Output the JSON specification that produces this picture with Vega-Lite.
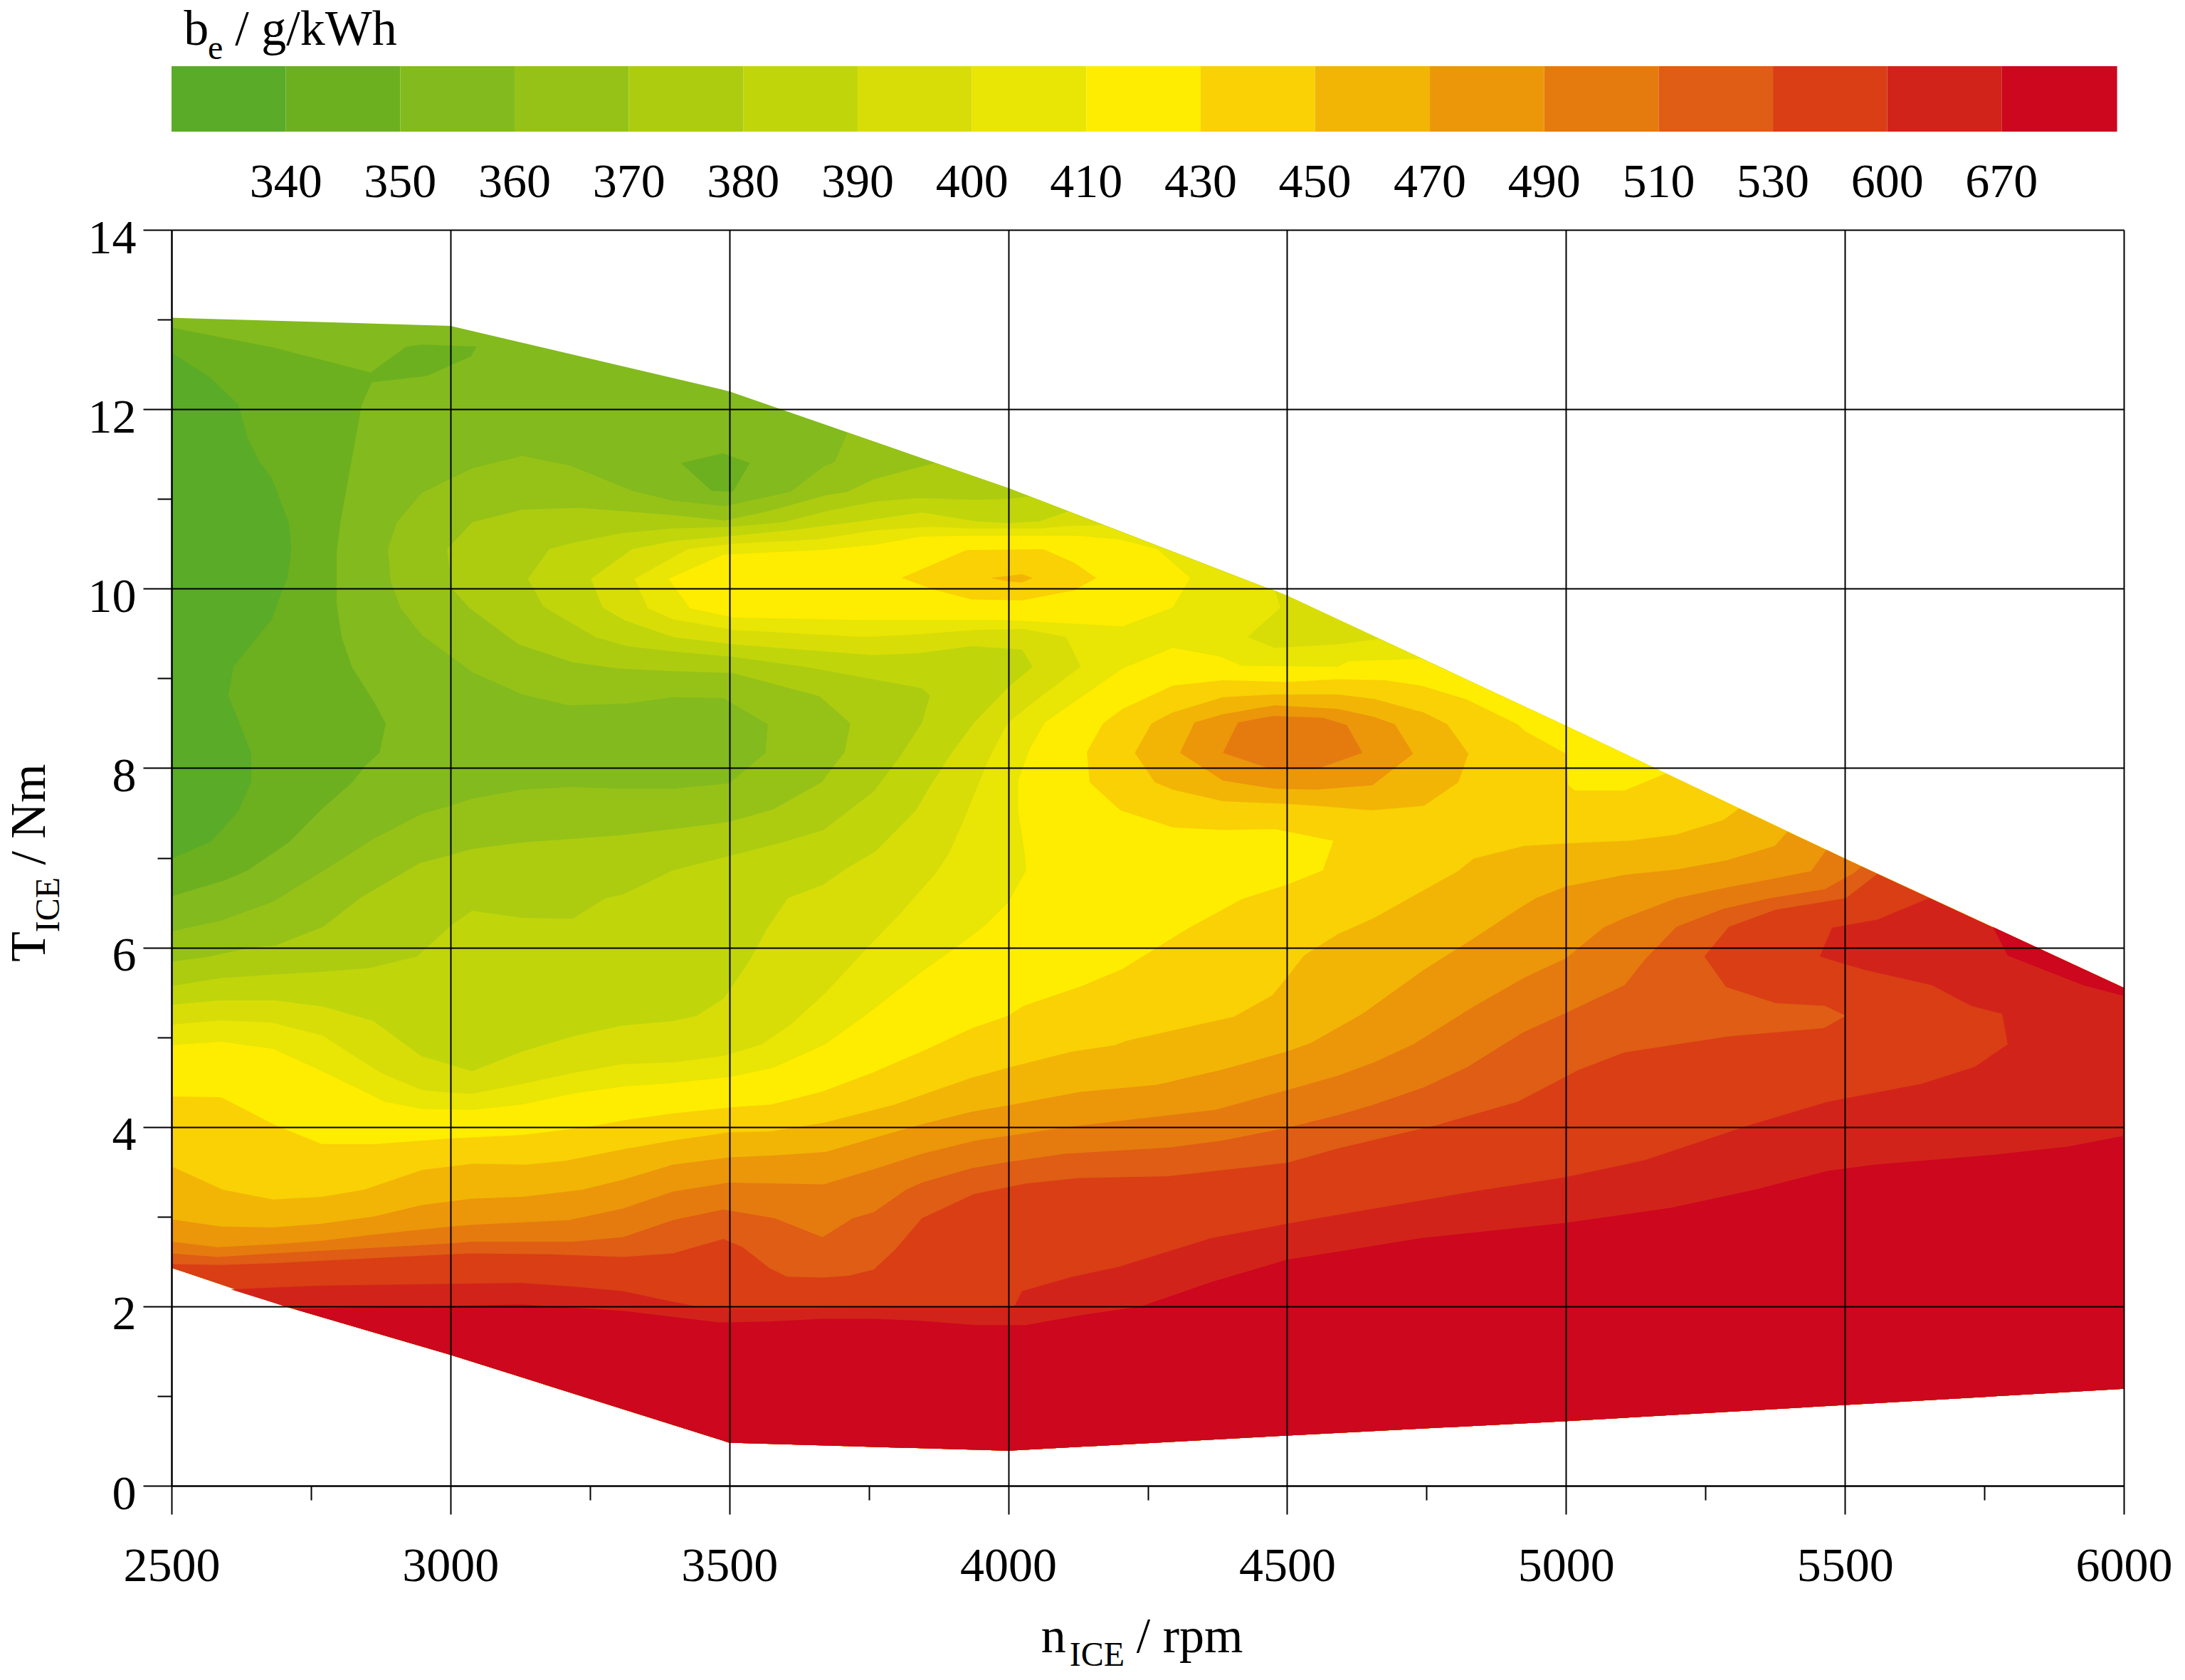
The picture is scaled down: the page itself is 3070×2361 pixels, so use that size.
{"$schema":"https://vega.github.io/schema/vega-lite/v6.json","autosize":{"type":"none"},"padding":{"left":241,"top":323,"right":86,"bottom":273},"width":2743,"height":1765,"background":"white","config":{"view":{"stroke":null},"text":{"font":"Liberation Serif","color":"#000"}},
"datasets":{
"poly":[
{"p":"env","b":2,"x":2500,"y":13.02},{"p":"env","b":2,"x":3000,"y":12.93},{"p":"env","b":2,"x":3500,"y":12.2},{"p":"env","b":2,"x":4000,"y":11.12},{"p":"env","b":2,"x":4500,"y":9.92},{"p":"env","b":2,"x":5000,"y":8.47},{"p":"env","b":2,"x":5500,"y":6.99},{"p":"env","b":2,"x":6000,"y":5.55},{"p":"env","b":2,"x":6000,"y":1.08},{"p":"env","b":2,"x":5500,"y":0.9},{"p":"env","b":2,"x":5000,"y":0.72},{"p":"env","b":2,"x":4500,"y":0.56},{"p":"env","b":2,"x":4000,"y":0.39},{"p":"env","b":2,"x":3500,"y":0.48},{"p":"env","b":2,"x":3000,"y":1.46},{"p":"env","b":2,"x":2703,"y":2.0},{"p":"env","b":2,"x":2600,"y":2.22},{"p":"env","b":2,"x":2500,"y":2.43},
{"p":"v1","b":1,"x":2500,"y":12.91},{"p":"v1","b":1,"x":2682,"y":12.69},{"p":"v1","b":1,"x":2857,"y":12.41},{"p":"v1","b":1,"x":2921,"y":12.7},{"p":"v1","b":1,"x":2949,"y":12.72},{"p":"v1","b":1,"x":3047,"y":12.7},{"p":"v1","b":1,"x":3037,"y":12.59},{"p":"v1","b":1,"x":2957,"y":12.37},{"p":"v1","b":1,"x":2859,"y":12.3},{"p":"v1","b":1,"x":2841,"y":12.05},{"p":"v1","b":1,"x":2803,"y":10.75},{"p":"v1","b":1,"x":2796,"y":10.4},{"p":"v1","b":1,"x":2796,"y":9.83},{"p":"v1","b":1,"x":2805,"y":9.46},{"p":"v1","b":1,"x":2823,"y":9.13},{"p":"v1","b":1,"x":2862,"y":8.75},{"p":"v1","b":1,"x":2884,"y":8.5},{"p":"v1","b":1,"x":2873,"y":8.17},{"p":"v1","b":1,"x":2848,"y":8.03},{"p":"v1","b":1,"x":2824,"y":7.84},{"p":"v1","b":1,"x":2769,"y":7.54},{"p":"v1","b":1,"x":2710,"y":7.17},{"p":"v1","b":1,"x":2637,"y":6.86},{"p":"v1","b":1,"x":2596,"y":6.75},{"p":"v1","b":1,"x":2500,"y":6.57},
{"p":"v1b","b":1,"x":3413,"y":11.4},{"p":"v1b","b":1,"x":3489,"y":11.51},{"p":"v1b","b":1,"x":3537,"y":11.4},{"p":"v1b","b":1,"x":3506,"y":11.08},{"p":"v1b","b":1,"x":3468,"y":11.09},
{"p":"v0","b":0,"x":2500,"y":12.63},{"p":"v0","b":0,"x":2568,"y":12.36},{"p":"v0","b":0,"x":2620,"y":12.05},{"p":"v0","b":0,"x":2637,"y":11.67},{"p":"v0","b":0,"x":2658,"y":11.41},{"p":"v0","b":0,"x":2680,"y":11.23},{"p":"v0","b":0,"x":2696,"y":10.97},{"p":"v0","b":0,"x":2710,"y":10.74},{"p":"v0","b":0,"x":2715,"y":10.44},{"p":"v0","b":0,"x":2708,"y":10.12},{"p":"v0","b":0,"x":2699,"y":9.99},{"p":"v0","b":0,"x":2680,"y":9.66},{"p":"v0","b":0,"x":2611,"y":9.13},{"p":"v0","b":0,"x":2602,"y":8.81},{"p":"v0","b":0,"x":2643,"y":8.17},{"p":"v0","b":0,"x":2643,"y":7.85},{"p":"v0","b":0,"x":2620,"y":7.52},{"p":"v0","b":0,"x":2571,"y":7.18},{"p":"v0","b":0,"x":2500,"y":6.99},
{"p":"r3","b":3,"x":2500,"y":6.18},{"p":"r3","b":3,"x":2589,"y":6.3},{"p":"r3","b":3,"x":2682,"y":6.51},{"p":"r3","b":3,"x":2776,"y":6.87},{"p":"r3","b":3,"x":2862,"y":7.21},{"p":"r3","b":3,"x":2949,"y":7.49},{"p":"r3","b":3,"x":3000,"y":7.58},{"p":"r3","b":3,"x":3039,"y":7.66},{"p":"r3","b":3,"x":3129,"y":7.76},{"p":"r3","b":3,"x":3219,"y":7.79},{"p":"r3","b":3,"x":3302,"y":7.77},{"p":"r3","b":3,"x":3399,"y":7.77},{"p":"r3","b":3,"x":3500,"y":7.83},{"p":"r3","b":3,"x":3565,"y":8.17},{"p":"r3","b":3,"x":3569,"y":8.49},{"p":"r3","b":3,"x":3489,"y":8.78},{"p":"r3","b":3,"x":3399,"y":8.79},{"p":"r3","b":3,"x":3316,"y":8.72},{"p":"r3","b":3,"x":3212,"y":8.7},{"p":"r3","b":3,"x":3129,"y":8.82},{"p":"r3","b":3,"x":3039,"y":9.07},{"p":"r3","b":3,"x":3000,"y":9.25},{"p":"r3","b":3,"x":2949,"y":9.48},{"p":"r3","b":3,"x":2911,"y":9.78},{"p":"r3","b":3,"x":2893,"y":10.08},{"p":"r3","b":3,"x":2888,"y":10.44},{"p":"r3","b":3,"x":2904,"y":10.74},{"p":"r3","b":3,"x":2949,"y":11.07},{"p":"r3","b":3,"x":3039,"y":11.34},{"p":"r3","b":3,"x":3129,"y":11.48},{"p":"r3","b":3,"x":3215,"y":11.37},{"p":"r3","b":3,"x":3326,"y":11.09},{"p":"r3","b":3,"x":3399,"y":10.98},{"p":"r3","b":3,"x":3492,"y":10.92},{"p":"r3","b":3,"x":3610,"y":11.08},{"p":"r3","b":3,"x":3669,"y":11.36},{"p":"r3","b":3,"x":3689,"y":11.41},{"p":"r3","b":3,"x":3712,"y":11.74},{"p":"r3","b":3,"x":4000,"y":11.12},{"p":"r3","b":3,"x":4500,"y":9.92},{"p":"r3","b":3,"x":5000,"y":8.47},{"p":"r3","b":3,"x":5500,"y":6.99},{"p":"r3","b":3,"x":6000,"y":5.55},{"p":"r3","b":3,"x":6000,"y":1.08},{"p":"r3","b":3,"x":5500,"y":0.9},{"p":"r3","b":3,"x":5000,"y":0.72},{"p":"r3","b":3,"x":4500,"y":0.56},{"p":"r3","b":3,"x":4000,"y":0.39},{"p":"r3","b":3,"x":3500,"y":0.48},{"p":"r3","b":3,"x":3000,"y":1.46},{"p":"r3","b":3,"x":2703,"y":2.0},{"p":"r3","b":3,"x":2600,"y":2.22},{"p":"r3","b":3,"x":2500,"y":2.43},
{"p":"r4","b":4,"x":2500,"y":5.84},{"p":"r4","b":4,"x":2568,"y":5.9},{"p":"r4","b":4,"x":2644,"y":6.0},{"p":"r4","b":4,"x":2686,"y":6.02},{"p":"r4","b":4,"x":2772,"y":6.23},{"p":"r4","b":4,"x":2838,"y":6.55},{"p":"r4","b":4,"x":2945,"y":6.94},{"p":"r4","b":4,"x":3000,"y":7.03},{"p":"r4","b":4,"x":3039,"y":7.1},{"p":"r4","b":4,"x":3129,"y":7.17},{"p":"r4","b":4,"x":3302,"y":7.25},{"p":"r4","b":4,"x":3399,"y":7.32},{"p":"r4","b":4,"x":3500,"y":7.4},{"p":"r4","b":4,"x":3579,"y":7.54},{"p":"r4","b":4,"x":3665,"y":7.84},{"p":"r4","b":4,"x":3707,"y":8.18},{"p":"r4","b":4,"x":3717,"y":8.5},{"p":"r4","b":4,"x":3662,"y":8.8},{"p":"r4","b":4,"x":3506,"y":9.06},{"p":"r4","b":4,"x":3399,"y":9.08},{"p":"r4","b":4,"x":3302,"y":9.11},{"p":"r4","b":4,"x":3219,"y":9.18},{"p":"r4","b":4,"x":3122,"y":9.38},{"p":"r4","b":4,"x":3035,"y":9.78},{"p":"r4","b":4,"x":3004,"y":9.99},{"p":"r4","b":4,"x":2994,"y":10.44},{"p":"r4","b":4,"x":3039,"y":10.74},{"p":"r4","b":4,"x":3129,"y":10.88},{"p":"r4","b":4,"x":3229,"y":10.9},{"p":"r4","b":4,"x":3316,"y":10.86},{"p":"r4","b":4,"x":3399,"y":10.82},{"p":"r4","b":4,"x":3492,"y":10.76},{"p":"r4","b":4,"x":3575,"y":10.87},{"p":"r4","b":4,"x":3672,"y":11.04},{"p":"r4","b":4,"x":3712,"y":11.08},{"p":"r4","b":4,"x":3759,"y":11.22},{"p":"r4","b":4,"x":3869,"y":11.4},{"p":"r4","b":4,"x":4000,"y":11.12},{"p":"r4","b":4,"x":4500,"y":9.92},{"p":"r4","b":4,"x":5000,"y":8.47},{"p":"r4","b":4,"x":5500,"y":6.99},{"p":"r4","b":4,"x":6000,"y":5.55},{"p":"r4","b":4,"x":6000,"y":1.08},{"p":"r4","b":4,"x":5500,"y":0.9},{"p":"r4","b":4,"x":5000,"y":0.72},{"p":"r4","b":4,"x":4500,"y":0.56},{"p":"r4","b":4,"x":4000,"y":0.39},{"p":"r4","b":4,"x":3500,"y":0.48},{"p":"r4","b":4,"x":3000,"y":1.46},{"p":"r4","b":4,"x":2703,"y":2.0},{"p":"r4","b":4,"x":2600,"y":2.22},{"p":"r4","b":4,"x":2500,"y":2.43},
{"p":"r5","b":5,"x":2500,"y":5.57},{"p":"r5","b":5,"x":2589,"y":5.66},{"p":"r5","b":5,"x":2686,"y":5.7},{"p":"r5","b":5,"x":2776,"y":5.73},{"p":"r5","b":5,"x":2855,"y":5.77},{"p":"r5","b":5,"x":2940,"y":5.9},{"p":"r5","b":5,"x":3000,"y":6.24},{"p":"r5","b":5,"x":3039,"y":6.41},{"p":"r5","b":5,"x":3129,"y":6.33},{"p":"r5","b":5,"x":3219,"y":6.32},{"p":"r5","b":5,"x":3278,"y":6.55},{"p":"r5","b":5,"x":3309,"y":6.59},{"p":"r5","b":5,"x":3399,"y":6.86},{"p":"r5","b":5,"x":3500,"y":7.02},{"p":"r5","b":5,"x":3589,"y":7.16},{"p":"r5","b":5,"x":3669,"y":7.31},{"p":"r5","b":5,"x":3759,"y":7.74},{"p":"r5","b":5,"x":3804,"y":8.11},{"p":"r5","b":5,"x":3845,"y":8.5},{"p":"r5","b":5,"x":3860,"y":8.81},{"p":"r5","b":5,"x":3845,"y":8.89},{"p":"r5","b":5,"x":3645,"y":9.12},{"p":"r5","b":5,"x":3506,"y":9.24},{"p":"r5","b":5,"x":3399,"y":9.3},{"p":"r5","b":5,"x":3316,"y":9.36},{"p":"r5","b":5,"x":3260,"y":9.46},{"p":"r5","b":5,"x":3167,"y":9.8},{"p":"r5","b":5,"x":3139,"y":10.11},{"p":"r5","b":5,"x":3177,"y":10.44},{"p":"r5","b":5,"x":3219,"y":10.51},{"p":"r5","b":5,"x":3309,"y":10.62},{"p":"r5","b":5,"x":3399,"y":10.67},{"p":"r5","b":5,"x":3506,"y":10.69},{"p":"r5","b":5,"x":3596,"y":10.74},{"p":"r5","b":5,"x":3679,"y":10.87},{"p":"r5","b":5,"x":3762,"y":10.97},{"p":"r5","b":5,"x":3838,"y":11.01},{"p":"r5","b":5,"x":3942,"y":10.99},{"p":"r5","b":5,"x":4000,"y":11.0},{"p":"r5","b":5,"x":4039,"y":11.03},{"p":"r5","b":5,"x":4500,"y":9.92},{"p":"r5","b":5,"x":5000,"y":8.47},{"p":"r5","b":5,"x":5500,"y":6.99},{"p":"r5","b":5,"x":6000,"y":5.55},{"p":"r5","b":5,"x":6000,"y":1.08},{"p":"r5","b":5,"x":5500,"y":0.9},{"p":"r5","b":5,"x":5000,"y":0.72},{"p":"r5","b":5,"x":4500,"y":0.56},{"p":"r5","b":5,"x":4000,"y":0.39},{"p":"r5","b":5,"x":3500,"y":0.48},{"p":"r5","b":5,"x":3000,"y":1.46},{"p":"r5","b":5,"x":2703,"y":2.0},{"p":"r5","b":5,"x":2600,"y":2.22},{"p":"r5","b":5,"x":2500,"y":2.43},
{"p":"r6","b":6,"x":2500,"y":5.36},{"p":"r6","b":6,"x":2585,"y":5.41},{"p":"r6","b":6,"x":2686,"y":5.41},{"p":"r6","b":6,"x":2772,"y":5.34},{"p":"r6","b":6,"x":2862,"y":5.18},{"p":"r6","b":6,"x":2947,"y":4.79},{"p":"r6","b":6,"x":3039,"y":4.62},{"p":"r6","b":6,"x":3129,"y":4.84},{"p":"r6","b":6,"x":3219,"y":5.01},{"p":"r6","b":6,"x":3309,"y":5.13},{"p":"r6","b":6,"x":3399,"y":5.18},{"p":"r6","b":6,"x":3442,"y":5.24},{"p":"r6","b":6,"x":3490,"y":5.43},{"p":"r6","b":6,"x":3537,"y":5.86},{"p":"r6","b":6,"x":3568,"y":6.21},{"p":"r6","b":6,"x":3605,"y":6.55},{"p":"r6","b":6,"x":3669,"y":6.7},{"p":"r6","b":6,"x":3710,"y":6.88},{"p":"r6","b":6,"x":3762,"y":7.07},{"p":"r6","b":6,"x":3835,"y":7.53},{"p":"r6","b":6,"x":3859,"y":7.79},{"p":"r6","b":6,"x":3900,"y":8.18},{"p":"r6","b":6,"x":3938,"y":8.5},{"p":"r6","b":6,"x":4000,"y":8.9},{"p":"r6","b":6,"x":4044,"y":9.13},{"p":"r6","b":6,"x":4025,"y":9.32},{"p":"r6","b":6,"x":3935,"y":9.36},{"p":"r6","b":6,"x":3838,"y":9.28},{"p":"r6","b":6,"x":3755,"y":9.26},{"p":"r6","b":6,"x":3506,"y":9.38},{"p":"r6","b":6,"x":3399,"y":9.46},{"p":"r6","b":6,"x":3312,"y":9.65},{"p":"r6","b":6,"x":3273,"y":9.79},{"p":"r6","b":6,"x":3252,"y":10.11},{"p":"r6","b":6,"x":3326,"y":10.44},{"p":"r6","b":6,"x":3399,"y":10.53},{"p":"r6","b":6,"x":3506,"y":10.59},{"p":"r6","b":6,"x":3610,"y":10.65},{"p":"r6","b":6,"x":3734,"y":10.75},{"p":"r6","b":6,"x":3845,"y":10.85},{"p":"r6","b":6,"x":3942,"y":10.75},{"p":"r6","b":6,"x":4000,"y":10.73},{"p":"r6","b":6,"x":4056,"y":10.75},{"p":"r6","b":6,"x":4108,"y":10.86},{"p":"r6","b":6,"x":4500,"y":9.92},{"p":"r6","b":6,"x":5000,"y":8.47},{"p":"r6","b":6,"x":5500,"y":6.99},{"p":"r6","b":6,"x":6000,"y":5.55},{"p":"r6","b":6,"x":6000,"y":1.08},{"p":"r6","b":6,"x":5500,"y":0.9},{"p":"r6","b":6,"x":5000,"y":0.72},{"p":"r6","b":6,"x":4500,"y":0.56},{"p":"r6","b":6,"x":4000,"y":0.39},{"p":"r6","b":6,"x":3500,"y":0.48},{"p":"r6","b":6,"x":3000,"y":1.46},{"p":"r6","b":6,"x":2703,"y":2.0},{"p":"r6","b":6,"x":2600,"y":2.22},{"p":"r6","b":6,"x":2500,"y":2.43},
{"p":"r7","b":7,"x":2500,"y":5.14},{"p":"r7","b":7,"x":2589,"y":5.19},{"p":"r7","b":7,"x":2682,"y":5.16},{"p":"r7","b":7,"x":2770,"y":5.02},{"p":"r7","b":7,"x":2876,"y":4.6},{"p":"r7","b":7,"x":2949,"y":4.41},{"p":"r7","b":7,"x":3000,"y":4.38},{"p":"r7","b":7,"x":3039,"y":4.37},{"p":"r7","b":7,"x":3129,"y":4.48},{"p":"r7","b":7,"x":3219,"y":4.6},{"p":"r7","b":7,"x":3309,"y":4.7},{"p":"r7","b":7,"x":3399,"y":4.72},{"p":"r7","b":7,"x":3489,"y":4.79},{"p":"r7","b":7,"x":3558,"y":4.92},{"p":"r7","b":7,"x":3610,"y":5.14},{"p":"r7","b":7,"x":3672,"y":5.49},{"p":"r7","b":7,"x":3748,"y":6.0},{"p":"r7","b":7,"x":3804,"y":6.36},{"p":"r7","b":7,"x":3869,"y":6.82},{"p":"r7","b":7,"x":3893,"y":7.04},{"p":"r7","b":7,"x":3914,"y":7.33},{"p":"r7","b":7,"x":3938,"y":7.69},{"p":"r7","b":7,"x":3963,"y":8.07},{"p":"r7","b":7,"x":3973,"y":8.2},{"p":"r7","b":7,"x":4000,"y":8.51},{"p":"r7","b":7,"x":4059,"y":8.8},{"p":"r7","b":7,"x":4130,"y":9.13},{"p":"r7","b":7,"x":4104,"y":9.46},{"p":"r7","b":7,"x":4028,"y":9.55},{"p":"r7","b":7,"x":3942,"y":9.54},{"p":"r7","b":7,"x":3838,"y":9.49},{"p":"r7","b":7,"x":3741,"y":9.46},{"p":"r7","b":7,"x":3506,"y":9.54},{"p":"r7","b":7,"x":3399,"y":9.66},{"p":"r7","b":7,"x":3354,"y":9.78},{"p":"r7","b":7,"x":3330,"y":10.11},{"p":"r7","b":7,"x":3425,"y":10.44},{"p":"r7","b":7,"x":3506,"y":10.5},{"p":"r7","b":7,"x":3658,"y":10.55},{"p":"r7","b":7,"x":3762,"y":10.65},{"p":"r7","b":7,"x":3859,"y":10.69},{"p":"r7","b":7,"x":3935,"y":10.67},{"p":"r7","b":7,"x":4053,"y":10.67},{"p":"r7","b":7,"x":4115,"y":10.7},{"p":"r7","b":7,"x":4170,"y":10.71},{"p":"r7","b":7,"x":4500,"y":9.92},{"p":"r7","b":7,"x":5000,"y":8.47},{"p":"r7","b":7,"x":5500,"y":6.99},{"p":"r7","b":7,"x":6000,"y":5.55},{"p":"r7","b":7,"x":6000,"y":1.08},{"p":"r7","b":7,"x":5500,"y":0.9},{"p":"r7","b":7,"x":5000,"y":0.72},{"p":"r7","b":7,"x":4500,"y":0.56},{"p":"r7","b":7,"x":4000,"y":0.39},{"p":"r7","b":7,"x":3500,"y":0.48},{"p":"r7","b":7,"x":3000,"y":1.46},{"p":"r7","b":7,"x":2703,"y":2.0},{"p":"r7","b":7,"x":2600,"y":2.22},{"p":"r7","b":7,"x":2500,"y":2.43},
{"p":"i6","b":6,"x":4478,"y":9.98},{"p":"i6","b":6,"x":4488,"y":9.79},{"p":"i6","b":6,"x":4429,"y":9.46},{"p":"i6","b":6,"x":4478,"y":9.34},{"p":"i6","b":6,"x":4591,"y":9.38},{"p":"i6","b":6,"x":4665,"y":9.44},{"p":"i6","b":6,"x":4500,"y":9.92},
{"p":"r8a","b":8,"x":3391,"y":10.11},{"p":"r8a","b":8,"x":3489,"y":10.38},{"p":"r8a","b":8,"x":3665,"y":10.43},{"p":"r8a","b":8,"x":3762,"y":10.49},{"p":"r8a","b":8,"x":3842,"y":10.58},{"p":"r8a","b":8,"x":3921,"y":10.59},{"p":"r8a","b":8,"x":4122,"y":10.59},{"p":"r8a","b":8,"x":4198,"y":10.55},{"p":"r8a","b":8,"x":4267,"y":10.44},{"p":"r8a","b":8,"x":4326,"y":10.12},{"p":"r8a","b":8,"x":4295,"y":9.79},{"p":"r8a","b":8,"x":4205,"y":9.58},{"p":"r8a","b":8,"x":4000,"y":9.65},{"p":"r8a","b":8,"x":3748,"y":9.65},{"p":"r8a","b":8,"x":3506,"y":9.68},{"p":"r8a","b":8,"x":3430,"y":9.78},
{"p":"r8b","b":8,"x":2500,"y":4.91},{"p":"r8b","b":8,"x":2589,"y":4.95},{"p":"r8b","b":8,"x":2682,"y":4.87},{"p":"r8b","b":8,"x":2770,"y":4.62},{"p":"r8b","b":8,"x":2883,"y":4.28},{"p":"r8b","b":8,"x":2949,"y":4.2},{"p":"r8b","b":8,"x":3039,"y":4.19},{"p":"r8b","b":8,"x":3129,"y":4.25},{"p":"r8b","b":8,"x":3219,"y":4.37},{"p":"r8b","b":8,"x":3309,"y":4.45},{"p":"r8b","b":8,"x":3399,"y":4.49},{"p":"r8b","b":8,"x":3506,"y":4.56},{"p":"r8b","b":8,"x":3579,"y":4.66},{"p":"r8b","b":8,"x":3672,"y":4.92},{"p":"r8b","b":8,"x":3748,"y":5.26},{"p":"r8b","b":8,"x":3845,"y":5.73},{"p":"r8b","b":8,"x":3907,"y":6.0},{"p":"r8b","b":8,"x":3956,"y":6.23},{"p":"r8b","b":8,"x":4000,"y":6.5},{"p":"r8b","b":8,"x":4032,"y":6.86},{"p":"r8b","b":8,"x":4030,"y":7.04},{"p":"r8b","b":8,"x":4018,"y":7.51},{"p":"r8b","b":8,"x":4018,"y":7.86},{"p":"r8b","b":8,"x":4039,"y":8.22},{"p":"r8b","b":8,"x":4066,"y":8.51},{"p":"r8b","b":8,"x":4205,"y":9.11},{"p":"r8b","b":8,"x":4295,"y":9.34},{"p":"r8b","b":8,"x":4381,"y":9.24},{"p":"r8b","b":8,"x":4419,"y":9.14},{"p":"r8b","b":8,"x":4591,"y":9.13},{"p":"r8b","b":8,"x":4609,"y":9.19},{"p":"r8b","b":8,"x":4740,"y":9.22},{"p":"r8b","b":8,"x":5000,"y":8.47},{"p":"r8b","b":8,"x":5500,"y":6.99},{"p":"r8b","b":8,"x":6000,"y":5.55},{"p":"r8b","b":8,"x":6000,"y":1.08},{"p":"r8b","b":8,"x":5500,"y":0.9},{"p":"r8b","b":8,"x":5000,"y":0.72},{"p":"r8b","b":8,"x":4500,"y":0.56},{"p":"r8b","b":8,"x":4000,"y":0.39},{"p":"r8b","b":8,"x":3500,"y":0.48},{"p":"r8b","b":8,"x":3000,"y":1.46},{"p":"r8b","b":8,"x":2703,"y":2.0},{"p":"r8b","b":8,"x":2600,"y":2.22},{"p":"r8b","b":8,"x":2500,"y":2.43},
{"p":"r9a","b":9,"x":3809,"y":10.12},{"p":"r9a","b":9,"x":3925,"y":10.43},{"p":"r9a","b":9,"x":4063,"y":10.44},{"p":"r9a","b":9,"x":4118,"y":10.29},{"p":"r9a","b":9,"x":4158,"y":10.12},{"p":"r9a","b":9,"x":4118,"y":9.98},{"p":"r9a","b":9,"x":4025,"y":9.87},{"p":"r9a","b":9,"x":3935,"y":9.88},{"p":"r9a","b":9,"x":3866,"y":9.99},
{"p":"r10a","b":10,"x":3968,"y":10.12},{"p":"r10a","b":10,"x":4025,"y":10.16},{"p":"r10a","b":10,"x":4044,"y":10.12},{"p":"r10a","b":10,"x":4025,"y":10.07},{"p":"r10a","b":10,"x":4000,"y":10.08},
{"p":"r9b","b":9,"x":2500,"y":4.34},{"p":"r9b","b":9,"x":2589,"y":4.33},{"p":"r9b","b":9,"x":2686,"y":4.02},{"p":"r9b","b":9,"x":2769,"y":3.81},{"p":"r9b","b":9,"x":2866,"y":3.81},{"p":"r9b","b":9,"x":3000,"y":3.87},{"p":"r9b","b":9,"x":3129,"y":3.91},{"p":"r9b","b":9,"x":3247,"y":4.0},{"p":"r9b","b":9,"x":3316,"y":4.08},{"p":"r9b","b":9,"x":3399,"y":4.15},{"p":"r9b","b":9,"x":3506,"y":4.22},{"p":"r9b","b":9,"x":3575,"y":4.25},{"p":"r9b","b":9,"x":3665,"y":4.39},{"p":"r9b","b":9,"x":3755,"y":4.6},{"p":"r9b","b":9,"x":3852,"y":4.86},{"p":"r9b","b":9,"x":3935,"y":5.1},{"p":"r9b","b":9,"x":4000,"y":5.24},{"p":"r9b","b":9,"x":4028,"y":5.35},{"p":"r9b","b":9,"x":4132,"y":5.57},{"p":"r9b","b":9,"x":4205,"y":5.76},{"p":"r9b","b":9,"x":4267,"y":6.0},{"p":"r9b","b":9,"x":4322,"y":6.21},{"p":"r9b","b":9,"x":4419,"y":6.54},{"p":"r9b","b":9,"x":4500,"y":6.7},{"p":"r9b","b":9,"x":4564,"y":6.86},{"p":"r9b","b":9,"x":4583,"y":7.19},{"p":"r9b","b":9,"x":4478,"y":7.32},{"p":"r9b","b":9,"x":4385,"y":7.31},{"p":"r9b","b":9,"x":4295,"y":7.34},{"p":"r9b","b":9,"x":4201,"y":7.53},{"p":"r9b","b":9,"x":4146,"y":7.84},{"p":"r9b","b":9,"x":4141,"y":8.18},{"p":"r9b","b":9,"x":4170,"y":8.5},{"p":"r9b","b":9,"x":4205,"y":8.66},{"p":"r9b","b":9,"x":4295,"y":8.92},{"p":"r9b","b":9,"x":4385,"y":8.98},{"p":"r9b","b":9,"x":4500,"y":8.96},{"p":"r9b","b":9,"x":4591,"y":8.99},{"p":"r9b","b":9,"x":4675,"y":8.98},{"p":"r9b","b":9,"x":4740,"y":8.92},{"p":"r9b","b":9,"x":4820,"y":8.77},{"p":"r9b","b":9,"x":4913,"y":8.49},{"p":"r9b","b":9,"x":4927,"y":8.41},{"p":"r9b","b":9,"x":5000,"y":8.16},{"p":"r9b","b":9,"x":5004,"y":7.81},{"p":"r9b","b":9,"x":5016,"y":7.75},{"p":"r9b","b":9,"x":5105,"y":7.75},{"p":"r9b","b":9,"x":5179,"y":7.94},{"p":"r9b","b":9,"x":5500,"y":6.99},{"p":"r9b","b":9,"x":6000,"y":5.55},{"p":"r9b","b":9,"x":6000,"y":1.08},{"p":"r9b","b":9,"x":5500,"y":0.9},{"p":"r9b","b":9,"x":5000,"y":0.72},{"p":"r9b","b":9,"x":4500,"y":0.56},{"p":"r9b","b":9,"x":4000,"y":0.39},{"p":"r9b","b":9,"x":3500,"y":0.48},{"p":"r9b","b":9,"x":3000,"y":1.46},{"p":"r9b","b":9,"x":2703,"y":2.0},{"p":"r9b","b":9,"x":2600,"y":2.22},{"p":"r9b","b":9,"x":2500,"y":2.43},
{"p":"r10b","b":10,"x":4227,"y":8.17},{"p":"r10b","b":10,"x":4257,"y":8.5},{"p":"r10b","b":10,"x":4295,"y":8.62},{"p":"r10b","b":10,"x":4385,"y":8.79},{"p":"r10b","b":10,"x":4474,"y":8.82},{"p":"r10b","b":10,"x":4591,"y":8.82},{"p":"r10b","b":10,"x":4656,"y":8.77},{"p":"r10b","b":10,"x":4745,"y":8.62},{"p":"r10b","b":10,"x":4787,"y":8.49},{"p":"r10b","b":10,"x":4825,"y":8.16},{"p":"r10b","b":10,"x":4807,"y":7.84},{"p":"r10b","b":10,"x":4745,"y":7.58},{"p":"r10b","b":10,"x":4651,"y":7.53},{"p":"r10b","b":10,"x":4553,"y":7.58},{"p":"r10b","b":10,"x":4500,"y":7.6},{"p":"r10b","b":10,"x":4385,"y":7.63},{"p":"r10b","b":10,"x":4295,"y":7.76},{"p":"r10b","b":10,"x":4263,"y":7.84},
{"p":"r11b","b":11,"x":4308,"y":8.17},{"p":"r11b","b":11,"x":4334,"y":8.51},{"p":"r11b","b":11,"x":4385,"y":8.6},{"p":"r11b","b":11,"x":4478,"y":8.7},{"p":"r11b","b":11,"x":4591,"y":8.66},{"p":"r11b","b":11,"x":4656,"y":8.57},{"p":"r11b","b":11,"x":4693,"y":8.49},{"p":"r11b","b":11,"x":4726,"y":8.16},{"p":"r11b","b":11,"x":4653,"y":7.81},{"p":"r11b","b":11,"x":4553,"y":7.76},{"p":"r11b","b":11,"x":4478,"y":7.77},{"p":"r11b","b":11,"x":4385,"y":7.86},
{"p":"r12b","b":12,"x":4385,"y":8.17},{"p":"r12b","b":12,"x":4412,"y":8.51},{"p":"r12b","b":12,"x":4474,"y":8.58},{"p":"r12b","b":12,"x":4564,"y":8.56},{"p":"r12b","b":12,"x":4607,"y":8.48},{"p":"r12b","b":12,"x":4635,"y":8.17},{"p":"r12b","b":12,"x":4553,"y":7.99},{"p":"r12b","b":12,"x":4471,"y":7.99},
{"p":"r10","b":10,"x":2500,"y":3.56},{"p":"r10","b":10,"x":2592,"y":3.3},{"p":"r10","b":10,"x":2682,"y":3.19},{"p":"r10","b":10,"x":2769,"y":3.22},{"p":"r10","b":10,"x":2845,"y":3.3},{"p":"r10","b":10,"x":2949,"y":3.52},{"p":"r10","b":10,"x":3039,"y":3.59},{"p":"r10","b":10,"x":3136,"y":3.58},{"p":"r10","b":10,"x":3205,"y":3.62},{"p":"r10","b":10,"x":3309,"y":3.75},{"p":"r10","b":10,"x":3399,"y":3.85},{"p":"r10","b":10,"x":3500,"y":3.94},{"p":"r10","b":10,"x":3575,"y":3.95},{"p":"r10","b":10,"x":3672,"y":4.05},{"p":"r10","b":10,"x":3797,"y":4.25},{"p":"r10","b":10,"x":3935,"y":4.55},{"p":"r10","b":10,"x":4000,"y":4.66},{"p":"r10","b":10,"x":4115,"y":4.84},{"p":"r10","b":10,"x":4191,"y":4.91},{"p":"r10","b":10,"x":4212,"y":4.96},{"p":"r10","b":10,"x":4405,"y":5.23},{"p":"r10","b":10,"x":4474,"y":5.47},{"p":"r10","b":10,"x":4500,"y":5.67},{"p":"r10","b":10,"x":4530,"y":5.91},{"p":"r10","b":10,"x":4591,"y":6.15},{"p":"r10","b":10,"x":4656,"y":6.33},{"p":"r10","b":10,"x":4806,"y":6.85},{"p":"r10","b":10,"x":4834,"y":6.99},{"p":"r10","b":10,"x":4924,"y":7.13},{"p":"r10","b":10,"x":5000,"y":7.16},{"p":"r10","b":10,"x":5114,"y":7.19},{"p":"r10","b":10,"x":5198,"y":7.26},{"p":"r10","b":10,"x":5282,"y":7.42},{"p":"r10","b":10,"x":5310,"y":7.55},{"p":"r10","b":10,"x":5500,"y":6.99},{"p":"r10","b":10,"x":6000,"y":5.55},{"p":"r10","b":10,"x":6000,"y":1.08},{"p":"r10","b":10,"x":5500,"y":0.9},{"p":"r10","b":10,"x":5000,"y":0.72},{"p":"r10","b":10,"x":4500,"y":0.56},{"p":"r10","b":10,"x":4000,"y":0.39},{"p":"r10","b":10,"x":3500,"y":0.48},{"p":"r10","b":10,"x":3000,"y":1.46},{"p":"r10","b":10,"x":2703,"y":2.0},{"p":"r10","b":10,"x":2600,"y":2.22},{"p":"r10","b":10,"x":2500,"y":2.43},
{"p":"r11","b":11,"x":2500,"y":2.97},{"p":"r11","b":11,"x":2589,"y":2.89},{"p":"r11","b":11,"x":2682,"y":2.88},{"p":"r11","b":11,"x":2769,"y":2.92},{"p":"r11","b":11,"x":2862,"y":3.0},{"p":"r11","b":11,"x":2949,"y":3.13},{"p":"r11","b":11,"x":3039,"y":3.2},{"p":"r11","b":11,"x":3129,"y":3.22},{"p":"r11","b":11,"x":3236,"y":3.3},{"p":"r11","b":11,"x":3309,"y":3.41},{"p":"r11","b":11,"x":3399,"y":3.58},{"p":"r11","b":11,"x":3500,"y":3.66},{"p":"r11","b":11,"x":3575,"y":3.68},{"p":"r11","b":11,"x":3672,"y":3.72},{"p":"r11","b":11,"x":3845,"y":4.03},{"p":"r11","b":11,"x":3935,"y":4.17},{"p":"r11","b":11,"x":4000,"y":4.24},{"p":"r11","b":11,"x":4129,"y":4.39},{"p":"r11","b":11,"x":4267,"y":4.47},{"p":"r11","b":11,"x":4385,"y":4.64},{"p":"r11","b":11,"x":4500,"y":4.84},{"p":"r11","b":11,"x":4544,"y":4.94},{"p":"r11","b":11,"x":4635,"y":5.26},{"p":"r11","b":11,"x":4745,"y":5.75},{"p":"r11","b":11,"x":4834,"y":6.1},{"p":"r11","b":11,"x":4922,"y":6.46},{"p":"r11","b":11,"x":4946,"y":6.55},{"p":"r11","b":11,"x":5000,"y":6.68},{"p":"r11","b":11,"x":5105,"y":6.81},{"p":"r11","b":11,"x":5198,"y":6.87},{"p":"r11","b":11,"x":5287,"y":6.97},{"p":"r11","b":11,"x":5374,"y":7.13},{"p":"r11","b":11,"x":5397,"y":7.29},{"p":"r11","b":11,"x":5500,"y":6.99},{"p":"r11","b":11,"x":6000,"y":5.55},{"p":"r11","b":11,"x":6000,"y":1.08},{"p":"r11","b":11,"x":5500,"y":0.9},{"p":"r11","b":11,"x":5000,"y":0.72},{"p":"r11","b":11,"x":4500,"y":0.56},{"p":"r11","b":11,"x":4000,"y":0.39},{"p":"r11","b":11,"x":3500,"y":0.48},{"p":"r11","b":11,"x":3000,"y":1.46},{"p":"r11","b":11,"x":2703,"y":2.0},{"p":"r11","b":11,"x":2600,"y":2.22},{"p":"r11","b":11,"x":2500,"y":2.43},
{"p":"r12","b":12,"x":2500,"y":2.72},{"p":"r12","b":12,"x":2582,"y":2.66},{"p":"r12","b":12,"x":2682,"y":2.69},{"p":"r12","b":12,"x":2769,"y":2.73},{"p":"r12","b":12,"x":2862,"y":2.8},{"p":"r12","b":12,"x":3000,"y":2.89},{"p":"r12","b":12,"x":3039,"y":2.91},{"p":"r12","b":12,"x":3212,"y":2.96},{"p":"r12","b":12,"x":3309,"y":3.09},{"p":"r12","b":12,"x":3399,"y":3.28},{"p":"r12","b":12,"x":3500,"y":3.38},{"p":"r12","b":12,"x":3669,"y":3.36},{"p":"r12","b":12,"x":3755,"y":3.52},{"p":"r12","b":12,"x":3845,"y":3.7},{"p":"r12","b":12,"x":3942,"y":3.85},{"p":"r12","b":12,"x":4000,"y":3.9},{"p":"r12","b":12,"x":4108,"y":4.0},{"p":"r12","b":12,"x":4371,"y":4.19},{"p":"r12","b":12,"x":4500,"y":4.41},{"p":"r12","b":12,"x":4591,"y":4.57},{"p":"r12","b":12,"x":4656,"y":4.72},{"p":"r12","b":12,"x":4726,"y":4.92},{"p":"r12","b":12,"x":4834,"y":5.34},{"p":"r12","b":12,"x":4927,"y":5.67},{"p":"r12","b":12,"x":5000,"y":5.88},{"p":"r12","b":12,"x":5067,"y":6.22},{"p":"r12","b":12,"x":5105,"y":6.33},{"p":"r12","b":12,"x":5198,"y":6.55},{"p":"r12","b":12,"x":5282,"y":6.66},{"p":"r12","b":12,"x":5366,"y":6.76},{"p":"r12","b":12,"x":5439,"y":6.85},{"p":"r12","b":12,"x":5467,"y":7.09},{"p":"r12","b":12,"x":5500,"y":6.99},{"p":"r12","b":12,"x":6000,"y":5.55},{"p":"r12","b":12,"x":6000,"y":1.08},{"p":"r12","b":12,"x":5500,"y":0.9},{"p":"r12","b":12,"x":5000,"y":0.72},{"p":"r12","b":12,"x":4500,"y":0.56},{"p":"r12","b":12,"x":4000,"y":0.39},{"p":"r12","b":12,"x":3500,"y":0.48},{"p":"r12","b":12,"x":3000,"y":1.46},{"p":"r12","b":12,"x":2703,"y":2.0},{"p":"r12","b":12,"x":2600,"y":2.22},{"p":"r12","b":12,"x":2500,"y":2.43},
{"p":"r13","b":13,"x":2500,"y":2.59},{"p":"r13","b":13,"x":2582,"y":2.55},{"p":"r13","b":13,"x":2682,"y":2.59},{"p":"r13","b":13,"x":3000,"y":2.7},{"p":"r13","b":13,"x":3039,"y":2.72},{"p":"r13","b":13,"x":3219,"y":2.72},{"p":"r13","b":13,"x":3309,"y":2.77},{"p":"r13","b":13,"x":3399,"y":2.96},{"p":"r13","b":13,"x":3489,"y":3.08},{"p":"r13","b":13,"x":3582,"y":2.98},{"p":"r13","b":13,"x":3667,"y":2.77},{"p":"r13","b":13,"x":3721,"y":2.98},{"p":"r13","b":13,"x":3759,"y":3.05},{"p":"r13","b":13,"x":3817,"y":3.3},{"p":"r13","b":13,"x":3845,"y":3.38},{"p":"r13","b":13,"x":3935,"y":3.54},{"p":"r13","b":13,"x":4000,"y":3.61},{"p":"r13","b":13,"x":4101,"y":3.7},{"p":"r13","b":13,"x":4288,"y":3.77},{"p":"r13","b":13,"x":4385,"y":3.85},{"p":"r13","b":13,"x":4500,"y":3.99},{"p":"r13","b":13,"x":4591,"y":4.13},{"p":"r13","b":13,"x":4651,"y":4.24},{"p":"r13","b":13,"x":4745,"y":4.44},{"p":"r13","b":13,"x":4824,"y":4.67},{"p":"r13","b":13,"x":4922,"y":5.05},{"p":"r13","b":13,"x":5000,"y":5.27},{"p":"r13","b":13,"x":5105,"y":5.58},{"p":"r13","b":13,"x":5142,"y":5.87},{"p":"r13","b":13,"x":5198,"y":6.23},{"p":"r13","b":13,"x":5282,"y":6.43},{"p":"r13","b":13,"x":5366,"y":6.55},{"p":"r13","b":13,"x":5464,"y":6.65},{"p":"r13","b":13,"x":5516,"y":6.83},{"p":"r13","b":13,"x":5530,"y":6.9},{"p":"r13","b":13,"x":6000,"y":5.55},{"p":"r13","b":13,"x":6000,"y":1.08},{"p":"r13","b":13,"x":5500,"y":0.9},{"p":"r13","b":13,"x":5000,"y":0.72},{"p":"r13","b":13,"x":4500,"y":0.56},{"p":"r13","b":13,"x":4000,"y":0.39},{"p":"r13","b":13,"x":3500,"y":0.48},{"p":"r13","b":13,"x":3000,"y":1.46},{"p":"r13","b":13,"x":2703,"y":2.0},{"p":"r13","b":13,"x":2600,"y":2.22},{"p":"r13","b":13,"x":2500,"y":2.43},
{"p":"r14","b":14,"x":2500,"y":2.47},{"p":"r14","b":14,"x":2589,"y":2.46},{"p":"r14","b":14,"x":2682,"y":2.48},{"p":"r14","b":14,"x":3000,"y":2.58},{"p":"r14","b":14,"x":3039,"y":2.59},{"p":"r14","b":14,"x":3177,"y":2.58},{"p":"r14","b":14,"x":3309,"y":2.55},{"p":"r14","b":14,"x":3399,"y":2.59},{"p":"r14","b":14,"x":3489,"y":2.75},{"p":"r14","b":14,"x":3524,"y":2.66},{"p":"r14","b":14,"x":3571,"y":2.43},{"p":"r14","b":14,"x":3603,"y":2.33},{"p":"r14","b":14,"x":3667,"y":2.32},{"p":"r14","b":14,"x":3714,"y":2.34},{"p":"r14","b":14,"x":3759,"y":2.41},{"p":"r14","b":14,"x":3797,"y":2.63},{"p":"r14","b":14,"x":3845,"y":2.98},{"p":"r14","b":14,"x":3938,"y":3.25},{"p":"r14","b":14,"x":4000,"y":3.33},{"p":"r14","b":14,"x":4032,"y":3.37},{"p":"r14","b":14,"x":4129,"y":3.43},{"p":"r14","b":14,"x":4288,"y":3.45},{"p":"r14","b":14,"x":4500,"y":3.6},{"p":"r14","b":14,"x":4591,"y":3.76},{"p":"r14","b":14,"x":4768,"y":4.02},{"p":"r14","b":14,"x":4913,"y":4.28},{"p":"r14","b":14,"x":5000,"y":4.56},{"p":"r14","b":14,"x":5021,"y":4.63},{"p":"r14","b":14,"x":5105,"y":4.83},{"p":"r14","b":14,"x":5292,"y":5.01},{"p":"r14","b":14,"x":5462,"y":5.1},{"p":"r14","b":14,"x":5502,"y":5.24},{"p":"r14","b":14,"x":5464,"y":5.35},{"p":"r14","b":14,"x":5376,"y":5.38},{"p":"r14","b":14,"x":5287,"y":5.56},{"p":"r14","b":14,"x":5248,"y":5.9},{"p":"r14","b":14,"x":5292,"y":6.23},{"p":"r14","b":14,"x":5376,"y":6.42},{"p":"r14","b":14,"x":5502,"y":6.55},{"p":"r14","b":14,"x":5558,"y":6.82},{"p":"r14","b":14,"x":6000,"y":5.55},{"p":"r14","b":14,"x":6000,"y":1.08},{"p":"r14","b":14,"x":5500,"y":0.9},{"p":"r14","b":14,"x":5000,"y":0.72},{"p":"r14","b":14,"x":4500,"y":0.56},{"p":"r14","b":14,"x":4000,"y":0.39},{"p":"r14","b":14,"x":3500,"y":0.48},{"p":"r14","b":14,"x":3000,"y":1.46},{"p":"r14","b":14,"x":2703,"y":2.0},{"p":"r14","b":14,"x":2600,"y":2.22},{"p":"r14","b":14,"x":2500,"y":2.43},
{"p":"r15","b":15,"x":2606,"y":2.19},{"p":"r15","b":15,"x":2682,"y":2.21},{"p":"r15","b":15,"x":2769,"y":2.23},{"p":"r15","b":15,"x":3000,"y":2.25},{"p":"r15","b":15,"x":3129,"y":2.26},{"p":"r15","b":15,"x":3219,"y":2.22},{"p":"r15","b":15,"x":3309,"y":2.17},{"p":"r15","b":15,"x":3399,"y":2.05},{"p":"r15","b":15,"x":3440,"y":2.0},{"p":"r15","b":15,"x":3506,"y":1.98},{"p":"r15","b":15,"x":3624,"y":1.98},{"p":"r15","b":15,"x":4000,"y":2.0},{"p":"r15","b":15,"x":4011,"y":2.0},{"p":"r15","b":15,"x":4025,"y":2.17},{"p":"r15","b":15,"x":4115,"y":2.33},{"p":"r15","b":15,"x":4198,"y":2.44},{"p":"r15","b":15,"x":4364,"y":2.76},{"p":"r15","b":15,"x":4500,"y":2.92},{"p":"r15","b":15,"x":4591,"y":3.02},{"p":"r15","b":15,"x":4834,"y":3.28},{"p":"r15","b":15,"x":5000,"y":3.44},{"p":"r15","b":15,"x":5142,"y":3.63},{"p":"r15","b":15,"x":5329,"y":4.02},{"p":"r15","b":15,"x":5469,"y":4.28},{"p":"r15","b":15,"x":5637,"y":4.48},{"p":"r15","b":15,"x":5733,"y":4.67},{"p":"r15","b":15,"x":5792,"y":4.92},{"p":"r15","b":15,"x":5782,"y":5.26},{"p":"r15","b":15,"x":5726,"y":5.35},{"p":"r15","b":15,"x":5656,"y":5.58},{"p":"r15","b":15,"x":5535,"y":5.75},{"p":"r15","b":15,"x":5455,"y":5.9},{"p":"r15","b":15,"x":5477,"y":6.22},{"p":"r15","b":15,"x":5558,"y":6.31},{"p":"r15","b":15,"x":5651,"y":6.55},{"p":"r15","b":15,"x":6000,"y":5.55},{"p":"r15","b":15,"x":6000,"y":1.08},{"p":"r15","b":15,"x":5500,"y":0.9},{"p":"r15","b":15,"x":5000,"y":0.72},{"p":"r15","b":15,"x":4500,"y":0.56},{"p":"r15","b":15,"x":4000,"y":0.39},{"p":"r15","b":15,"x":3500,"y":0.48},{"p":"r15","b":15,"x":3000,"y":1.46},{"p":"r15","b":15,"x":2703,"y":2.0},
{"p":"r16","b":16,"x":2720,"y":1.97},{"p":"r16","b":16,"x":3129,"y":2.02},{"p":"r16","b":16,"x":3309,"y":1.95},{"p":"r16","b":16,"x":3482,"y":1.82},{"p":"r16","b":16,"x":3571,"y":1.83},{"p":"r16","b":16,"x":3665,"y":1.86},{"p":"r16","b":16,"x":3762,"y":1.86},{"p":"r16","b":16,"x":3838,"y":1.84},{"p":"r16","b":16,"x":3942,"y":1.79},{"p":"r16","b":16,"x":4032,"y":1.79},{"p":"r16","b":16,"x":4129,"y":1.9},{"p":"r16","b":16,"x":4239,"y":2.0},{"p":"r16","b":16,"x":4364,"y":2.27},{"p":"r16","b":16,"x":4500,"y":2.52},{"p":"r16","b":16,"x":4591,"y":2.61},{"p":"r16","b":16,"x":4740,"y":2.76},{"p":"r16","b":16,"x":5000,"y":2.93},{"p":"r16","b":16,"x":5189,"y":3.1},{"p":"r16","b":16,"x":5338,"y":3.3},{"p":"r16","b":16,"x":5469,"y":3.51},{"p":"r16","b":16,"x":5553,"y":3.58},{"p":"r16","b":16,"x":5768,"y":3.69},{"p":"r16","b":16,"x":5899,"y":3.78},{"p":"r16","b":16,"x":6000,"y":3.9},{"p":"r16","b":16,"x":6000,"y":1.08},{"p":"r16","b":16,"x":5500,"y":0.9},{"p":"r16","b":16,"x":5000,"y":0.72},{"p":"r16","b":16,"x":4500,"y":0.56},{"p":"r16","b":16,"x":4000,"y":0.39},{"p":"r16","b":16,"x":3500,"y":0.48},{"p":"r16","b":16,"x":3000,"y":1.46},
{"p":"r16b","b":16,"x":5765,"y":6.23},{"p":"r16b","b":16,"x":5792,"y":5.91},{"p":"r16b","b":16,"x":5927,"y":5.58},{"p":"r16b","b":16,"x":6000,"y":5.46},{"p":"r16b","b":16,"x":6000,"y":5.55}
],
"scale":[
{"b":0,"from":2500,"to":2705,"label":"340"},{"b":1,"from":2705,"to":2910,"label":"350"},{"b":2,"from":2910,"to":3115,"label":"360"},{"b":3,"from":3115,"to":3320,"label":"370"},{"b":4,"from":3320,"to":3525,"label":"380"},{"b":5,"from":3525,"to":3730,"label":"390"},{"b":6,"from":3730,"to":3935,"label":"400"},{"b":7,"from":3935,"to":4140,"label":"410"},{"b":8,"from":4140,"to":4345,"label":"430"},{"b":9,"from":4345,"to":4550,"label":"450"},{"b":10,"from":4550,"to":4756,"label":"470"},{"b":11,"from":4756,"to":4961,"label":"490"},{"b":12,"from":4961,"to":5166,"label":"510"},{"b":13,"from":5166,"to":5371,"label":"530"},{"b":14,"from":5371,"to":5576,"label":"600"},{"b":15,"from":5576,"to":5781,"label":"670"},{"b":16,"from":5781,"to":5988}
]
},
"layer":[
{"data":{"name":"poly"},"mark":{"type":"line","filled":true,"order":null,"strokeWidth":0,"clip":false},
"encoding":{
"x":{"field":"x","type":"quantitative","title":null,"scale":{"domain":[2500,6000],"nice":false,"zero":false},"axis":{"title":null,"values":[2500,2750,3000,3250,3500,3750,4000,4250,4500,4750,5000,5250,5500,5750,6000],"format":"d","zindex":1,"grid":true,"gridColor":"#000","gridWidth":2,"gridOpacity":{"condition":{"test":"datum.value % 500 == 0","value":1},"value":0},"domainColor":"#000","domainWidth":2,"tickColor":"#000","tickWidth":2,"tickSize":{"condition":{"test":"datum.value % 500 == 0","value":40},"value":20},"labelExpr":"datum.value % 500 == 0 ? datum.label : ''","labelFont":"Liberation Serif","labelFontSize":68,"labelColor":"#000","labelPadding":39,"labelOverlap":false,"labelFlush":false,"labelBound":false,"labelBaseline":"top"}},
"y":{"field":"y","type":"quantitative","title":null,"scale":{"domain":[0,14],"nice":false,"zero":false},"axis":{"title":null,"values":[0,1,2,3,4,5,6,7,8,9,10,11,12,13,14],"format":"d","zindex":1,"grid":true,"gridColor":"#000","gridWidth":2,"gridOpacity":{"condition":{"test":"datum.value % 2 == 0","value":1},"value":0},"domainColor":"#000","domainWidth":2,"tickColor":"#000","tickWidth":2,"tickSize":{"condition":{"test":"datum.value % 2 == 0","value":40},"value":20},"labelExpr":"datum.value % 2 == 0 ? datum.label : ''","labelFont":"Liberation Serif","labelFontSize":68,"labelColor":"#000","labelPadding":10,"labelOverlap":false,"labelFlush":false,"labelBound":false,"labelBaseline":"middle","labelOffset":12}},
"color":{"field":"b","type":"nominal","scale":{"domain":[0,1,2,3,4,5,6,7,8,9,10,11,12,13,14,15,16],"range":["#5AAB27","#6CB01F","#83BA1E","#96C217","#ADCC10","#C0D60A","#D8DD08","#E9E504","#FFED00","#F9D104","#F2B505","#EC960A","#E57B0E","#DF5D14","#D93E15","#D2231A","#CC071E"]},"legend":null},
"detail":{"field":"p"}
}},
{"data":{"name":"scale"},"mark":{"type":"rect","clip":false},
"encoding":{"x":{"field":"from","type":"quantitative","title":null},"x2":{"field":"to"},"y":{"datum":15.095,"type":"quantitative","title":null},"y2":{"datum":15.824},"color":{"field":"b","type":"nominal","legend":null}}},
{"data":{"name":"scale"},"transform":[{"filter":"isValid(datum.label)"}],"mark":{"type":"text","fontSize":68,"align":"center","baseline":"alphabetic","clip":false},
"encoding":{"x":{"field":"to","type":"quantitative","title":null},"y":{"datum":14.365,"type":"quantitative","title":null},"text":{"field":"label"}}},
{"data":{"values":[{"x":2522,"y":16.06,"t":"b"},{"x":2614,"y":16.06,"t":"/ g/kWh"},{"x":4059,"y":-1.856,"t":"n"},{"x":4230,"y":-1.856,"t":"/ rpm"}]},"mark":{"type":"text","fontSize":70,"align":"left","baseline":"alphabetic","clip":false},
"encoding":{"x":{"field":"x","type":"quantitative","title":null},"y":{"field":"y","type":"quantitative","title":null},"text":{"field":"t"}}},
{"data":{"values":[{"x":2565,"y":15.9,"t":"e"},{"x":4110,"y":-2.007,"t":"ICE"}]},"mark":{"type":"text","fontSize":48,"align":"left","baseline":"alphabetic","clip":false},
"encoding":{"x":{"field":"x","type":"quantitative","title":null},"y":{"field":"y","type":"quantitative","title":null},"text":{"field":"t"}}},
{"data":{"values":[{"x":2273,"y":5.84,"t":"T"},{"x":2273,"y":6.92,"t":"/ Nm"}]},"mark":{"type":"text","fontSize":70,"angle":270,"align":"left","baseline":"alphabetic","clip":false},
"encoding":{"x":{"field":"x","type":"quantitative","title":null},"y":{"field":"y","type":"quantitative","title":null},"text":{"field":"t"}}},
{"data":{"values":[{"x":2298,"y":6.17,"t":"ICE"}]},"mark":{"type":"text","fontSize":48,"angle":270,"align":"left","baseline":"alphabetic","clip":false},
"encoding":{"x":{"field":"x","type":"quantitative","title":null},"y":{"field":"y","type":"quantitative","title":null},"text":{"field":"t"}}}
]}
